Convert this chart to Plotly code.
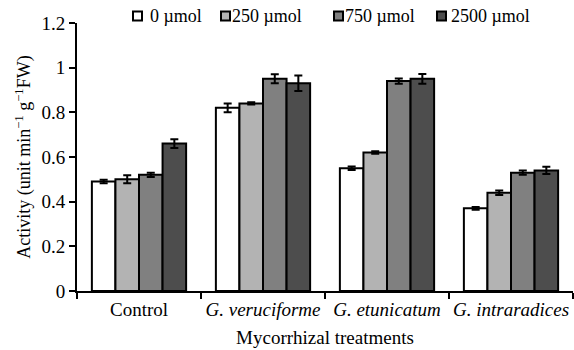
import plotly.graph_objects as go

categories = ["Control", "<i>G. veruciforme</i>", "<i>G. etunicatum</i>", "<i>G. intraradices</i>"]
series_names = ["0 µmol", "250 µmol", "750 µmol", "2500 µmol"]
values = [
    [0.49, 0.82, 0.55, 0.37],
    [0.50, 0.84, 0.62, 0.44],
    [0.52, 0.95, 0.94, 0.53],
    [0.66, 0.93, 0.95, 0.54],
]
errors = [
    [0.008, 0.02, 0.008, 0.006],
    [0.018, 0.005, 0.006, 0.01],
    [0.01, 0.02, 0.012, 0.01],
    [0.02, 0.035, 0.022, 0.016],
]
colors = ["#ffffff", "#b3b3b3", "#808080", "#4d4d4d"]
y_ticks = [0, 0.2, 0.4, 0.6, 0.8, 1, 1.2]

W, H = 574, 350
L, R, T, B = 77, 1, 23, 59
PW, PH = W - L - R, H - T - B

def px_x(p):
    return (p - L) / PW

def px_y(p):
    return (H - B - p) / PH

fig = go.Figure()
for name, v, e, c in zip(series_names, values, errors, colors):
    fig.add_trace(go.Bar(
        name=name, x=categories, y=v, showlegend=False,
        marker=dict(color=c, line=dict(color="black", width=2)),
        error_y=dict(type="data", array=e, color="black", thickness=2, width=4),
    ))

# hand-built compact legend (layout only)
legend_sq_left = [133, 221, 334, 437]
legend_txt_left = [148, 230, 343, 449]
for name, c, sx, tx in zip(series_names, colors, legend_sq_left, legend_txt_left):
    fig.add_shape(type="rect", xref="paper", yref="paper",
                  x0=px_x(sx), x1=px_x(sx + 9), y0=px_y(20.5), y1=px_y(11.5),
                  fillcolor=c, line=dict(color="black", width=2))
    fig.add_annotation(xref="paper", yref="paper", x=px_x(tx), y=px_y(16),
                       xanchor="left", yanchor="middle", text=name, showarrow=False,
                       font=dict(size=18))

font = "Liberation Serif"
fig.update_layout(
    width=W, height=H,
    barmode="group", bargap=0.24, bargroupgap=0,
    plot_bgcolor="white", paper_bgcolor="white",
    margin=dict(l=L, r=R, t=T, b=B, autoexpand=False),
    font=dict(family=font, size=19, color="black"),
    showlegend=False,
    xaxis=dict(showline=True, linecolor="black", linewidth=2, automargin=False, tickangle=0,
               ticks="outside", tickson="boundaries", ticklen=6, tickwidth=2, tickcolor="black",
               tickfont=dict(size=19),
               title=dict(text="Mycorrhizal treatments", font=dict(size=19), standoff=12)),
    yaxis=dict(range=[0, 1.2], tickvals=y_ticks, ticktext=[str(t) for t in y_ticks],
               showline=True, linecolor="black", linewidth=2, showgrid=False, zeroline=False,
               automargin=False,
               ticks="outside", ticklen=6, tickwidth=2, tickcolor="black",
               tickfont=dict(size=19),
               title=dict(text="Activity (unit min<sup>−1</sup> g<sup>−1</sup>FW)", font=dict(size=18), standoff=6)),
)
fig.write_html("out.html", config={"displayModeBar": False},
               post_script="document.body.style.margin='0';")
